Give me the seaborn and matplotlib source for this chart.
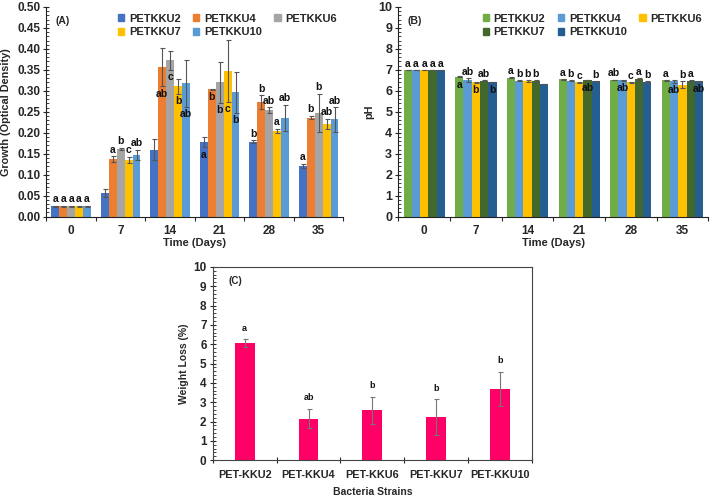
import matplotlib
matplotlib.use('Agg')
import matplotlib.pyplot as plt
from matplotlib.ticker import AutoMinorLocator, MultipleLocator, FormatStrFormatter
from matplotlib.patches import Patch
import seaborn as sns
import pandas as pd

# ---- data ----
days = ['0', '7', '14', '21', '28', '35']
strains = ['PETKKU2', 'PETKKU4', 'PETKKU6', 'PETKKU7', 'PETKKU10']

# (A) growth, optical density
od_u2 = [0.025, 0.057, 0.160, 0.177, 0.179, 0.121]
od_u4 = [0.025, 0.137, 0.357, 0.304, 0.273, 0.236]
od_u6 = [0.025, 0.162, 0.373, 0.320, 0.254, 0.247]
od_u7 = [0.025, 0.135, 0.311, 0.348, 0.205, 0.221]
od_u10 = [0.025, 0.148, 0.318, 0.297, 0.236, 0.232]
od_err_u2 = [0.001, 0.010, 0.026, 0.012, 0.003, 0.005]
od_err_u4 = [0.001, 0.007, 0.046, 0.001, 0.016, 0.004]
od_err_u6 = [0.001, 0.002, 0.023, 0.048, 0.007, 0.046]
od_err_u7 = [0.001, 0.008, 0.018, 0.074, 0.005, 0.012]
od_err_u10 = [0.001, 0.012, 0.056, 0.049, 0.031, 0.029]
od_let_u2 = ['a', '', '', 'a', 'b', 'a']
od_let_u4 = ['a', 'a', 'ab', 'b', 'b', 'b']
od_let_u6 = ['a', 'b', 'c', 'b', 'ab', 'b']
od_let_u7 = ['a', 'c', 'b', 'c', 'a', 'ab']
od_let_u10 = ['a', 'ab', 'ab', 'b', 'ab', 'ab']
# letter drawn above the bar (u) or inside it (i)
od_side_u2 = ['u', 'u', 'u', 'i', 'u', 'u']
od_side_u4 = ['u', 'u', 'i', 'i', 'u', 'u']
od_side_u6 = ['u', 'u', 'i', 'i', 'u', 'u']
od_side_u7 = ['u', 'u', 'i', 'i', 'u', 'u']
od_side_u10 = ['u', 'u', 'i', 'i', 'u', 'u']

# (B) pH
ph_u2 = [7.00, 6.68, 6.62, 6.55, 6.52, 6.50]
ph_u4 = [7.00, 6.50, 6.49, 6.49, 6.50, 6.45]
ph_u6 = [7.00, 6.40, 6.47, 6.40, 6.40, 6.30]
ph_u7 = [7.00, 6.48, 6.47, 6.52, 6.55, 6.46]
ph_u10 = [7.00, 6.42, 6.33, 6.45, 6.42, 6.45]
ph_err_u2 = [0.01, 0.02, 0.02, 0.02, 0.02, 0.02]
ph_err_u4 = [0.01, 0.10, 0.03, 0.02, 0.02, 0.06]
ph_err_u6 = [0.01, 0.02, 0.05, 0.03, 0.04, 0.15]
ph_err_u7 = [0.01, 0.03, 0.06, 0.02, 0.06, 0.06]
ph_err_u10 = [0.01, 0.02, 0.02, 0.02, 0.04, 0.02]
ph_let_u2 = ['a', 'a', 'a', 'a', 'ab', 'a']
ph_let_u4 = ['a', 'ab', 'b', 'b', 'ab', 'ab']
ph_let_u6 = ['a', 'b', 'b', 'c', 'c', 'b']
ph_let_u7 = ['a', 'ab', 'b', 'ab', 'a', 'a']
ph_let_u10 = ['a', 'b', '', 'b', 'b', 'ab']
ph_side_u2 = ['u', 'i', 'u', 'u', 'u', 'u']
ph_side_u4 = ['u', 'u', 'u', 'u', 'i', 'i']
ph_side_u6 = ['u', 'i', 'u', 'u', 'u', 'u']
ph_side_u7 = ['u', 'u', 'u', 'i', 'u', 'u']
ph_side_u10 = ['u', 'i', 'u', 'u', 'u', 'i']

# (C) weight loss
strains_c = ['PET-KKU2', 'PET-KKU4', 'PET-KKU6', 'PET-KKU7', 'PET-KKU10']
weight_loss = [6.05, 2.15, 2.58, 2.23, 3.68]
weight_loss_err = [0.20, 0.50, 0.70, 0.92, 0.87]
weight_loss_let = ['a', 'ab', 'b', 'b', 'b']

colors_a = ['#4472C4', '#ED7D31', '#A5A5A5', '#FFC000', '#5B9BD5']
colors_b = ['#70AD47', '#5B9BD5', '#FFC000', '#43682B', '#255E91']

sns.set_style('white')
plt.rcParams['font.family'] = ['Liberation Sans', 'DejaVu Sans']
plt.rcParams['font.weight'] = 'bold'
plt.rcParams['axes.labelweight'] = 'bold'


def long_frame(series):
    rows = []
    for strain, vals in zip(strains, series):
        for d, v in zip(days, vals):
            rows.append({'day': d, 'strain': strain, 'value': v})
    return pd.DataFrame(rows)


def style_axis(ax, major, minor_n):
    for s in ['top', 'right']:
        ax.spines[s].set_visible(False)
    for s in ['left', 'bottom']:
        ax.spines[s].set_color('#222222')
        ax.spines[s].set_linewidth(0.8)
    ax.yaxis.set_major_locator(MultipleLocator(major))
    ax.yaxis.set_minor_locator(AutoMinorLocator(minor_n))
    ax.tick_params(axis='y', which='major', direction='inout', length=5, width=0.8,
                   left=True, labelsize=9, pad=2)
    ax.tick_params(axis='y', which='minor', direction='in', length=2, width=0.6, left=True)
    ax.set_xticks(range(len(days)))
    ax.set_xticks([i + 0.5 for i in range(-1, len(days))], minor=True)
    ax.tick_params(axis='x', which='major', length=0, labelsize=8.5, pad=6)
    ax.tick_params(axis='x', which='minor', direction='out', length=3, width=0.8, bottom=True)
    ax.set_xlim(-0.5, len(days) - 0.5)


def grouped_panel(ax, values, errs, lets, sides, colors, ymax, major, minor_n,
                  off_up, off_in, ylabel, tag):
    df = long_frame(values)
    sns.barplot(data=df, x='day', y='value', hue='strain', order=days, hue_order=strains,
                palette=colors, errorbar=None, saturation=1, width=0.8, linewidth=0,
                legend=False, ax=ax)
    for cont, e, l, s in zip(ax.containers, errs, lets, sides):
        xs = [p.get_x() + p.get_width() / 2 for p in cont.patches]
        hs = [p.get_height() for p in cont.patches]
        ax.errorbar(xs, hs, yerr=e, fmt='none', ecolor='#555555', elinewidth=0.8,
                    capsize=1.8, capthick=0.8)
        for x, h, ee, lab, side in zip(xs, hs, e, l, s):
            if not lab:
                continue
            if side == 'u':
                ax.text(x, h + ee + off_up, lab, ha='center', va='bottom', fontsize=7.5,
                        fontweight='bold', color='#111111')
            else:
                ax.text(x, h - ee - off_in, lab, ha='center', va='top', fontsize=7.5,
                        fontweight='bold', color='#111111')
    ax.set_ylim(0, ymax)
    style_axis(ax, major, minor_n)
    ax.set_xlabel('Time (Days)', fontsize=8, labelpad=1)
    ax.set_ylabel(ylabel, fontsize=7.8, labelpad=3)
    ax.text(0.03, 0.955, tag, transform=ax.transAxes, fontsize=7.5, fontweight='bold',
            va='top')
    handles = [Patch(color=c, label=s) for c, s in zip(colors, strains)]
    order = [0, 3, 1, 4, 2]
    ax.legend([handles[i] for i in order], [strains[i] for i in order], ncol=3,
              loc='upper right', bbox_to_anchor=(1.0, 1.0), frameon=False,
              fontsize=8, handlelength=0.6, handleheight=0.6, handletextpad=0.4,
              columnspacing=1.1, labelspacing=0.3, borderaxespad=0.2)


fig = plt.figure(figsize=(7.14, 4.97), dpi=100)
ax_a = fig.add_axes([0.065, 0.564, 0.416, 0.422])
ax_b = fig.add_axes([0.558, 0.564, 0.434, 0.422])
ax_c = fig.add_axes([0.298, 0.074, 0.447, 0.389])

grouped_panel(ax_a, [od_u2, od_u4, od_u6, od_u7, od_u10],
              [od_err_u2, od_err_u4, od_err_u6, od_err_u7, od_err_u10],
              [od_let_u2, od_let_u4, od_let_u6, od_let_u7, od_let_u10],
              [od_side_u2, od_side_u4, od_side_u6, od_side_u7, od_side_u10],
              colors_a, 0.5, 0.05, 5, 0.004, 0.006, 'Growth (Optical Density)', '(A)')
ax_a.yaxis.set_major_formatter(FormatStrFormatter('%.2f'))
ax_a.tick_params(axis='y', which='major', labelsize=8.5, pad=1.5)
ax_a.yaxis.set_label_coords(-0.118, 0.5)

grouped_panel(ax_b, [ph_u2, ph_u4, ph_u6, ph_u7, ph_u10],
              [ph_err_u2, ph_err_u4, ph_err_u6, ph_err_u7, ph_err_u10],
              [ph_let_u2, ph_let_u4, ph_let_u6, ph_let_u7, ph_let_u10],
              [ph_side_u2, ph_side_u4, ph_side_u6, ph_side_u7, ph_side_u10],
              colors_b, 10, 1, 5, 0.05, 0.12, 'pH', '(B)')

# (C)
sns.barplot(x=strains_c, y=weight_loss, color='#FF0066', saturation=1, width=0.31,
            linewidth=0, errorbar=None, ax=ax_c)
ax_c.errorbar(range(len(strains_c)), weight_loss, yerr=weight_loss_err, fmt='none',
              ecolor='#777777', elinewidth=0.8, capsize=1.8, capthick=0.8)
for i, (v, e, lab) in enumerate(zip(weight_loss, weight_loss_err, weight_loss_let)):
    ax_c.text(i, v + e + 0.35, lab, ha='center', va='bottom', fontsize=6.5,
              fontweight='bold', color='#111111')
ax_c.set_ylim(0, 10)
ax_c.set_xlim(-0.5, len(strains_c) - 0.5)
for s in ax_c.spines.values():
    s.set_color('#444444')
    s.set_linewidth(0.8)
ax_c.yaxis.set_major_locator(MultipleLocator(1))
ax_c.yaxis.set_minor_locator(AutoMinorLocator(5))
ax_c.tick_params(axis='y', which='major', direction='inout', length=5, width=0.8,
                 left=True, labelsize=8.5, pad=2)
ax_c.tick_params(axis='y', which='minor', direction='in', length=2, width=0.6, left=True)
ax_c.set_xticks(range(len(strains_c)))
ax_c.set_xticks([i + 0.5 for i in range(-1, len(strains_c))], minor=True)
ax_c.tick_params(axis='x', which='major', length=0, labelsize=7.8, pad=7)
ax_c.tick_params(axis='x', which='minor', direction='inout', length=4, width=0.8, bottom=True)
ax_c.set_xlabel('Bacteria Strains', fontsize=7.5, labelpad=5)
ax_c.set_ylabel('Weight Loss (%)', fontsize=7.5, labelpad=3)
ax_c.text(0.05, 0.955, '(C)', transform=ax_c.transAxes, fontsize=7, fontweight='bold',
          va='top')

fig.savefig('out.png', dpi=100)
